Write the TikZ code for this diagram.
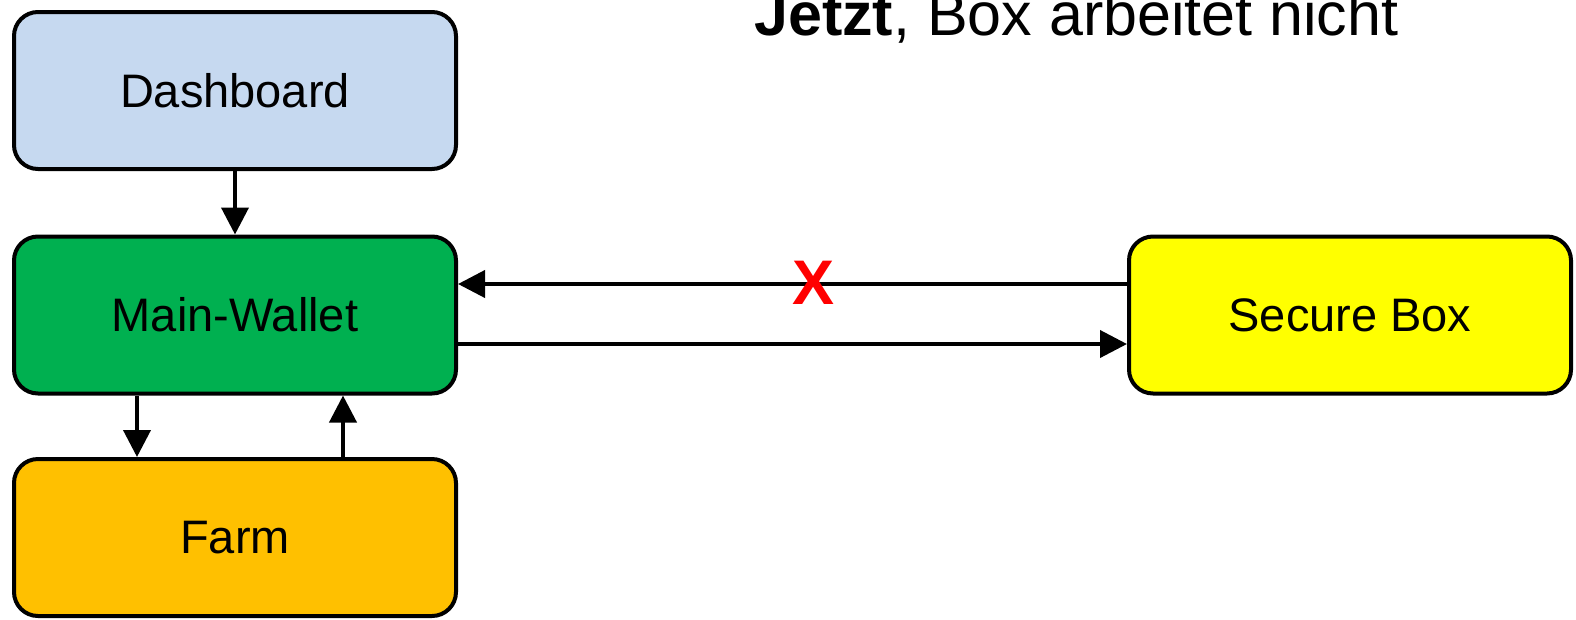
\documentclass[tikz,border=0pt]{standalone}
\usepackage{fontspec}
\setmainfont{Liberation Sans}
\usetikzlibrary{arrows.meta}

\definecolor{dashblue}{HTML}{C6D9F0}
\definecolor{walletgreen}{HTML}{00B050}
\definecolor{farmorange}{HTML}{FFC000}
\definecolor{boxyellow}{HTML}{FFFF00}
\definecolor{crossred}{HTML}{FF0000}

\tikzset{
  block/.style={draw=black, line width=4pt, rounded corners=24pt,
    minimum width=442pt, minimum height=157pt, inner sep=0pt,
    font=\fontsize{47}{56}\selectfont},
  link/.style={line width=4pt, -{Triangle[length=27pt,width=27pt]}}
}

\begin{document}
\begin{tikzpicture}[x=1pt, y=-1pt]
  \clip (0,0) rectangle (1576,619);
  \useasboundingbox (0,0) rectangle (1576,619);

  % boxes
  \node[block, fill=dashblue]    (dash)   at (235,90.5) {Dashboard};
  \node[block, fill=walletgreen] (wallet) at (235,315)  {Main-Wallet};
  \node[block, fill=farmorange]  (farm)   at (235,537.5) {Farm};
  \node[block, fill=boxyellow]   (secure) at (1350,315) {Secure Box};

  % title
  \node[anchor=base west, inner sep=0pt, font=\fontsize{61}{70}\selectfont]
    (title) at (754,35) {\textbf{Jetzt}, Box arbeitet nicht};

  % connectors
  \draw[link] (dash.south) -- (wallet.north);
  \draw[link] ([xshift=-98pt]wallet.south) -- ([xshift=-98pt]farm.north);
  \draw[link] ([xshift=108pt]farm.north) -- ([xshift=108pt]wallet.south);
  \draw[link] ([yshift=31pt]secure.west) -- ([yshift=31pt]wallet.east);
  \draw[link] ([yshift=-29pt]wallet.east) -- ([yshift=-29pt]secure.west);

  % broken link marker
  \node[inner sep=0pt, text=crossred, font=\fontsize{63}{70}\selectfont\bfseries]
    (cross) at (813,282.5) {X};
\end{tikzpicture}
\end{document}
